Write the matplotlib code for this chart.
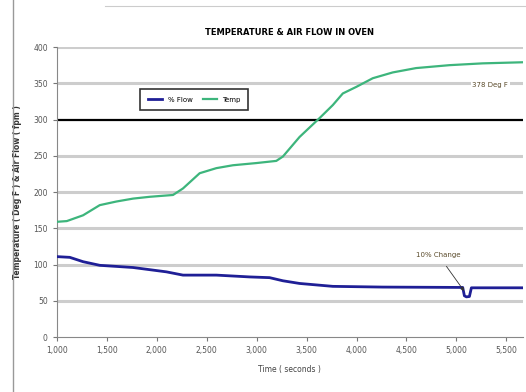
import numpy as np
import matplotlib.pyplot as plt
from matplotlib.lines import Line2D

# time (seconds) and readings taken off the chart
temp_t = [1000, 1100, 1263, 1430, 1597, 1763, 1930, 2163, 2263, 2430, 2597, 2763,
          2997, 3197, 3263, 3430, 3630, 3763, 3863, 3997, 4163, 4363, 4597, 4930,
          5263, 5663]
temp_v = [159, 160, 168, 182, 187, 191, 193.5, 196, 205, 226, 233, 237,
          240, 243, 249, 276, 302, 320, 336, 345, 357, 365, 371, 375,
          377.5, 379]

flow_t = [1000, 1130, 1263, 1430, 1763, 2097, 2263, 2597, 2930, 3130, 3263, 3430,
          3763, 4263, 5063, 5080, 5100, 5130, 5150, 5197, 5663]
flow_v = [111, 110, 104, 99, 96, 90, 85.5, 85.5, 83, 82, 77.7, 74,
          70, 69, 68.5, 57, 55.5, 56, 68, 68, 68]

x_ticks = [1000, 1500, 2000, 2500, 3000, 3500, 4000, 4500, 5000, 5500]
x_labels = ['1,000', '1,500', '2,000', '2,500', '3,000', '3,500', '4,000',
            '4,500', '5,000', '5,500']
y_ticks = [0, 50, 100, 150, 200, 250, 300, 350, 400]


def main():
    fig = plt.figure(figsize=(5.26, 3.92), dpi=100)
    ax = fig.add_axes([0.108, 0.140, 0.886, 0.740])

    for y in y_ticks:
        if y == 0:
            continue
        ax.axhline(y, color='black' if y == 300 else '#cdcdcd',
                   lw=1.6 if y == 300 else 2.2, zorder=1)

    ax.plot(flow_t, flow_v, color='#1f1f96', lw=2.0, zorder=3, label='% Flow')
    ax.plot(temp_t, temp_v, color='#3db57c', lw=1.6, zorder=3, label='Temp')

    ax.set_xlim(1000, 5665)
    ax.set_ylim(0, 400)
    ax.set_xticks(x_ticks)
    ax.set_xticklabels(x_labels, fontsize=5.5, color='#555555')
    ax.set_yticks(y_ticks)
    ax.set_yticklabels([str(v) for v in y_ticks], fontsize=5.5, color='#555555')
    ax.tick_params(length=3, width=0.8, colors='#777777', labelcolor='#555555')

    for s in ['top', 'right']:
        ax.spines[s].set_visible(False)
    ax.spines['left'].set_color('#888888')
    ax.spines['bottom'].set_color('#888888')

    ax.set_title('TEMPERATURE & AIR FLOW IN OVEN', fontsize=6, fontweight='bold',
                 pad=9)
    ax.set_xlabel('Time ( seconds )', fontsize=5.5, color='#444444', labelpad=7)
    ax.set_ylabel('Temperature ( Deg F ) & Air Flow ( fpm )', fontsize=5.5,
                  fontweight='bold', color='#333333', labelpad=8)

    leg = ax.legend(loc='upper left', bbox_to_anchor=(0.172, 0.867), ncol=2,
                    fontsize=5, frameon=True, fancybox=False, handlelength=2,
                    columnspacing=1.5, borderpad=1.1)
    leg.get_frame().set_edgecolor('black')
    leg.get_frame().set_linewidth(1.2)

    ax.text(5340, 348, '378 Deg F', fontsize=5, color='#5a4a2a', ha='center',
            va='center', zorder=4,
            bbox=dict(facecolor='white', edgecolor='none', pad=1))
    ax.annotate('10% Change', xy=(5085, 62), xytext=(4820, 113),
                fontsize=5, color='#5a4a2a', ha='center', va='center',
                bbox=dict(facecolor='white', edgecolor='none', pad=1),
                arrowprops=dict(arrowstyle='-|>', color='#333333', lw=0.6,
                                shrinkA=6, shrinkB=1, mutation_scale=5),
                zorder=4)

    # page border remnants
    fig.add_artist(Line2D([13 / 526, 13 / 526], [0, 1], color='#999999', lw=1))
    fig.add_artist(Line2D([0.2, 1], [1 - 6 / 392, 1 - 6 / 392], color='#cccccc',
                          lw=0.8))

    fig.savefig('out.png', dpi=100)


if __name__ == '__main__':
    main()
